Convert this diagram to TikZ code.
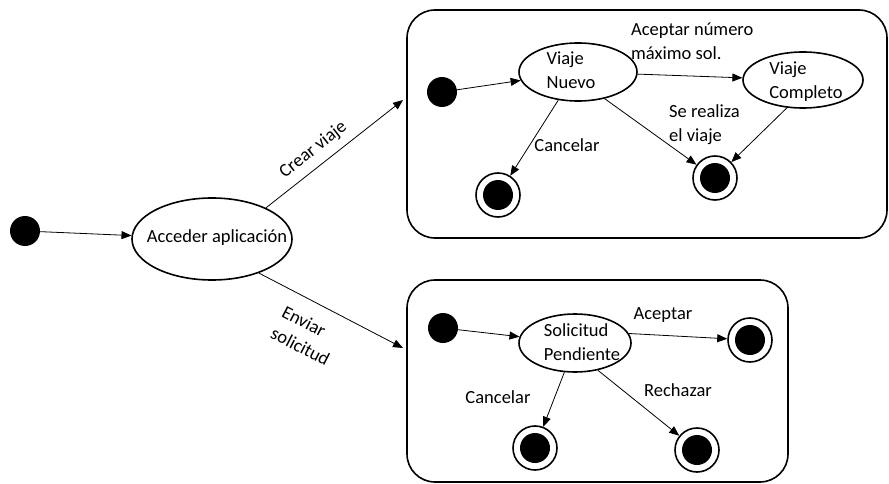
\documentclass[tikz,border=0pt]{standalone}
\usepackage{fontspec}
\setmainfont{Carlito}
\usetikzlibrary{arrows.meta,shapes.geometric}

\begin{document}
\begin{tikzpicture}[x=1pt,y=-1pt,
  every node/.style={font=\fontsize{18.5}{24}\selectfont},
  initstate/.style={circle,fill=black,minimum size=30pt,inner sep=0pt},
  state/.style={ellipse,draw,line width=1.6pt,inner sep=0pt},
  statetext/.style={inner sep=0pt,align=left},
  finalstate/.style={circle,draw,line width=1.6pt,minimum size=44pt,inner sep=0pt,
    path picture={\fill (path picture bounding box.center) circle (15pt);}},
  trans/.style={-{Triangle[length=10pt,width=8pt]},line width=0.8pt},
  region/.style={draw,line width=1.6pt,rounded corners=28pt},
  lbl/.style={inner sep=1pt,align=left}
]
\useasboundingbox (0,0) rectangle (889,484);

% composite regions
\draw[region] (407,10) rectangle (887,238);
\draw[region] (407,280) rectangle (788,482);

% entry
\node[initstate] (s0) at (25,231) {};
\node[state,minimum width=160pt,minimum height=82pt] (acc) at (212,239) {};
\node[statetext] (acctxt) at (217,238) {Acceder aplicación};
\coordinate (topin) at (403,100);
\coordinate (botin) at (403,348);

\draw[trans] (s0) -- (acc);
\draw[trans] (acc.30) -- node[pos=0.42,sloped,above=7pt,lbl] (crear) {Crear viaje} (topin);
\draw[trans] (acc.-36) -- node[pos=0.435,sloped,below=14pt,lbl] (enviar) {Enviar\\solicitud} (botin);

% trip states
\node[initstate] (t0) at (442,92) {};
\node[state,minimum width=118pt,minimum height=58pt] (vn) at (578,72) {};
\node[statetext] (vntxt) at (571,70) {Viaje\\Nuevo};
\node[state,minimum width=120pt,minimum height=56pt] (vc) at (803,80) {};
\node[statetext] (vctxt) at (806,82) {Viaje\\Completo};
\node[finalstate] (tf1) at (498,195) {};
\node[finalstate] (tf2) at (715,178) {};

\draw[trans] (t0) -- (vn);
\draw[trans] (vn) -- (vc);
\draw[trans] (vn.235) -- (tf1);
\draw[trans] (vn.315) -- (tf2);
\draw[trans] (vc.240) -- (tf2);

\node[lbl,anchor=west] (acept) at (630,41) {Aceptar número\\máximo sol.};
\node[lbl,anchor=west] (realiza) at (668,125) {Se realiza\\el viaje};
\node[lbl] (cancel1) at (567,145) {Cancelar};

% request states
\node[initstate] (b0) at (443,328) {};
\node[state,minimum width=112pt,minimum height=58pt] (sp) at (575,343) {};
\node[statetext] (sptxt) at (582,342) {Solicitud\\Pendiente};
\node[finalstate] (bf1) at (750,340) {};
\node[finalstate] (bf2) at (535,448) {};
\node[finalstate] (bf3) at (697,450) {};

\draw[trans] (b0) -- (sp);
\draw[trans] (sp.10) -- (bf1);
\draw[trans] (sp.250) -- (bf2);
\draw[trans] (sp.310) -- (bf3);

\node[lbl] (aceptar) at (663,315) {Aceptar};
\node[lbl] (cancel2) at (498,397) {Cancelar};
\node[lbl] (rechazar) at (678,390) {Rechazar};
\end{tikzpicture}
\end{document}
